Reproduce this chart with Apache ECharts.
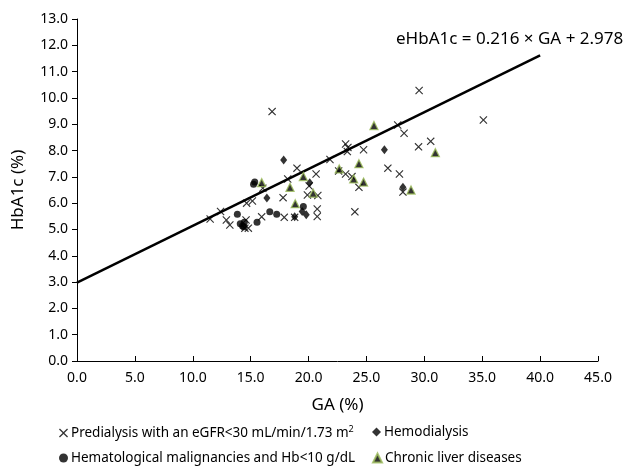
<!DOCTYPE html>
<html>
<head>
<meta charset="utf-8">
<script src="https://cdn.jsdelivr.net/npm/echarts@6/dist/echarts.min.js"></script>
<style>
  html, body { margin: 0; padding: 0; background: #fff; }
  #main { width: 628px; height: 467px; }
</style>
</head>
<body>
<div id="main"></div>
<script>
// GA (%) vs HbA1c (%) per group
var predialysis = [
  [11.5, 5.4], [12.4, 5.68], [12.9, 5.36], [13.2, 5.17], [14.6, 5.36], [14.5, 5.05],
  [14.8, 5.05], [14.65, 6.0], [15.15, 6.08], [15.95, 5.48], [16.05, 6.57], [16.85, 9.48],
  [17.9, 5.46], [17.8, 6.21], [18.2, 6.92], [18.8, 5.46], [19.0, 7.33], [19.9, 6.31],
  [20.05, 6.65], [20.65, 7.11], [20.8, 6.29], [20.75, 5.78], [20.75, 5.49], [21.85, 7.66],
  [22.6, 7.22], [23.2, 8.25], [23.4, 8.12], [23.35, 7.96], [23.2, 7.11], [23.75, 7.01],
  [24.0, 5.67], [24.35, 6.6], [24.75, 8.03], [26.85, 7.33], [27.7, 8.97], [27.85, 7.11],
  [28.25, 8.66], [28.15, 6.42], [29.5, 8.14], [29.55, 10.28], [30.55, 8.35], [35.1, 9.16]
];
var hemodialysis = [
  [17.85, 7.64], [16.4, 6.2], [20.1, 6.78], [19.45, 5.68], [19.8, 5.56], [26.55, 8.03],
  [28.15, 6.6], [18.8, 5.48]
];
var hematological = [
  [13.85, 5.58], [14.1, 5.22], [14.3, 5.13], [14.45, 5.27], [14.4, 5.1], [15.55, 5.27],
  [16.65, 5.67], [17.25, 5.58], [19.55, 5.87], [15.25, 6.72], [15.35, 6.8]
];
var liver = [
  [15.95, 6.78], [18.4, 6.6], [18.85, 5.98], [19.55, 7.01], [20.4, 6.38], [22.65, 7.3],
  [23.9, 6.92], [24.35, 7.5], [24.75, 6.8], [25.65, 8.95], [28.85, 6.5], [30.95, 7.92]
];
// regression line eHbA1c = 0.216 x GA + 2.978, drawn from GA 0 to 40
var fitLine = [[0, 2.978], [40, 11.618]];

var names = [
  'Predialysis with an eGFR<30 mL/min/1.73 m2',
  'Hemodialysis',
  'Hematological malignancies and Hb<10 g/dL',
  'Chronic liver diseases'
];

var crossPath = 'path://M0,1L1,0L5,4L9,0L10,1L6,5L10,9L9,10L5,6L1,10L0,9L4,5Z';
var font = "'Noto Sans', sans-serif";

function legendAt(name, left, top) {
  return {
    data: [name],
    left: left,
    top: top,
    itemWidth: 9,
    itemHeight: 9,
    itemGap: 4,
    selectedMode: false,
    formatter: function (n) {
      if (n.indexOf('m2') === n.length - 2) return n.slice(0, -1) + '{sup|2}';
      return n;
    },
    textStyle: {
      fontFamily: font, fontSize: 13.5, color: '#000', padding: [0, 0, 0, -2],
      rich: { sup: { fontFamily: font, fontSize: 9, color: '#000', padding: [0, 0, 7, 0] } }
    }
  };
}

var chart = echarts.init(document.getElementById('main'));
chart.setOption({
  animation: false,
  backgroundColor: '#fff',
  title: {
    text: 'eHbA1c = 0.216 \u00d7 GA + 2.978',
    left: 391,
    top: 26,
    textStyle: { fontFamily: font, fontSize: 17, fontWeight: 'normal', color: '#000' }
  },
  grid: { left: 77, right: 30, top: 19, bottom: 106 },
  legend: [
    legendAt(names[0], 54, 420),
    legendAt(names[1], 367, 420),
    legendAt(names[2], 54, 446),
    legendAt(names[3], 367, 446)
  ],
  xAxis: {
    type: 'value', min: 0, max: 45, interval: 5,
    name: 'GA (%)', nameLocation: 'middle', nameGap: 36,
    nameTextStyle: { fontFamily: font, fontSize: 17, color: '#000' },
    axisLine: { lineStyle: { color: '#000', width: 1 } },
    axisTick: { show: true, inside: true, length: 5, lineStyle: { color: '#000' } },
    axisLabel: { fontFamily: font, fontSize: 14, color: '#000', margin: 10,
      formatter: function (v) { return v.toFixed(1); } },
    splitLine: { show: false }
  },
  yAxis: {
    type: 'value', min: 0, max: 13, interval: 1,
    name: 'HbA1c (%)', nameLocation: 'middle', nameGap: 50, nameRotate: 90,
    nameTextStyle: { fontFamily: font, fontSize: 17, color: '#000' },
    axisLine: { show: true, lineStyle: { color: '#000', width: 1 } },
    axisTick: { show: true, length: 5, lineStyle: { color: '#000' } },
    axisLabel: { fontFamily: font, fontSize: 14, color: '#000', margin: 9,
      formatter: function (v) { return v.toFixed(1); } },
    splitLine: { show: false }
  },
  series: [
    {
      name: 'fit', type: 'line', data: fitLine, symbol: 'none', z: 1,
      lineStyle: { color: '#000', width: 2.5 }
    },
    {
      name: names[0], type: 'scatter', data: predialysis, symbol: crossPath, symbolSize: 8,
      itemStyle: { color: '#000' }
    },
    {
      name: names[1], type: 'scatter', data: hemodialysis, symbol: 'diamond', symbolSize: [7, 9],
      itemStyle: { color: '#000' }
    },
    {
      name: names[2], type: 'scatter', data: hematological, symbol: 'circle', symbolSize: 7,
      itemStyle: { color: '#000' }
    },
    {
      name: names[3], type: 'scatter', data: liver, symbol: 'triangle', symbolSize: 8,
      itemStyle: { color: '#000', borderColor: '#9BBB59', borderWidth: 1.3 }
    }
  ]
});
</script>
</body>
</html>
